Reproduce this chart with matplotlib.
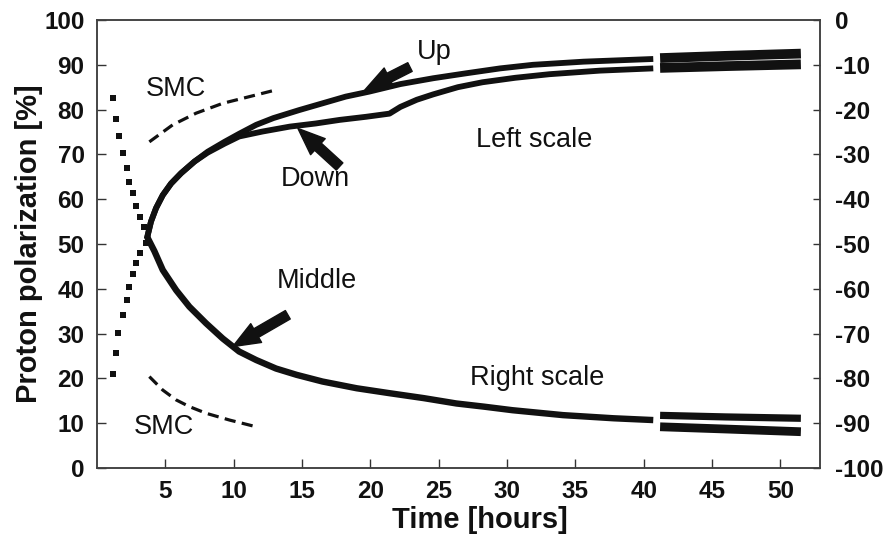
import matplotlib
matplotlib.use("Agg")
import matplotlib.pyplot as plt

plt.rcParams['font.family'] = ['Liberation Sans', 'DejaVu Sans']
plt.rcParams['axes.unicode_minus'] = False

INK = '#111111'

# ---- positive polarization, left scale [%] ----
t_rise = [1.14, 1.39, 1.51, 1.90, 2.17, 2.37, 2.61, 2.88, 3.17, 3.59]
p_rise = [21.0, 25.7, 30.2, 34.1, 37.5, 40.5, 43.2, 45.7, 47.9, 50.2]

t_up = [3.65, 3.95, 4.32, 4.81, 5.42, 6.15, 7.13, 8.1, 9.33, 10.4, 11.65, 12.9, 14.8,
        16.5, 18.2, 19.9, 22.2, 24.6, 27.0, 29.5, 31.9, 35.6, 40.7]
p_up = [51.2, 55.0, 58.0, 60.9, 63.5, 65.8, 68.4, 70.6, 72.8, 74.6, 76.6, 78.1, 79.9,
        81.4, 82.9, 84.0, 85.7, 87.0, 88.1, 89.2, 90.0, 90.7, 91.3]

t_down = [3.65, 3.95, 4.32, 4.81, 5.42, 6.15, 7.13, 8.1, 9.33, 10.4, 12.1, 14.1, 16.0,
          17.75, 19.7, 21.4, 22.2, 23.4, 24.6, 26.4, 28.2, 30.6, 33.1, 36.8, 40.7]
p_down = [51.2, 55.0, 58.0, 60.9, 63.5, 65.8, 68.4, 70.4, 72.4, 74.0, 75.1, 76.2, 76.9,
          77.7, 78.4, 79.1, 80.6, 82.2, 83.4, 85.0, 86.1, 87.1, 87.9, 88.7, 89.2]

t_up_late = [41.2, 46.0, 51.5]
p_up_late = [91.5, 92.0, 92.5]
t_down_late = [41.2, 46.0, 51.5]
p_down_late = [89.3, 89.7, 90.1]

t_smc_pos = [3.83, 5.54, 7.25, 9.2, 11.16, 13.1]
p_smc_pos = [72.8, 76.6, 79.2, 81.4, 82.9, 84.4]

# ---- negative polarization, right scale [%] ----
t_fall = [1.14, 1.39, 1.58, 1.90, 2.17, 2.37, 2.61, 2.88, 3.17, 3.47]
p_fall = [-17.5, -22.2, -25.9, -29.6, -33.1, -36.1, -38.7, -41.5, -43.9, -46.1]

t_mid = [3.65, 4.2, 4.81, 5.79, 6.76, 7.98, 9.2, 10.4, 11.65, 13.1, 14.6, 16.5, 19.0,
         21.4, 23.9, 26.3, 28.3, 30.4, 34.1, 37.8, 40.7]
p_mid = [-48.3, -51.6, -55.8, -60.3, -64.0, -67.7, -71.1, -74.0, -75.9, -77.8, -79.2,
         -80.7, -82.2, -83.3, -84.4, -85.6, -86.3, -87.1, -88.2, -88.9, -89.3]

t_mid_late_a = [41.2, 46.0, 51.5]
p_mid_late_a = [-88.25, -88.6, -88.9]
t_mid_late_b = [41.2, 46.0, 51.5]
p_mid_late_b = [-90.8, -91.3, -91.9]

t_smc_neg = [3.83, 4.81, 5.79, 6.76, 8.0, 9.7, 11.65]
p_smc_neg = [-79.6, -82.6, -84.8, -86.3, -87.8, -89.3, -90.8]

x_ticks = [5, 10, 15, 20, 25, 30, 35, 40, 45, 50]
left_ticks = [0, 10, 20, 30, 40, 50, 60, 70, 80, 90, 100]
right_ticks = [-100, -90, -80, -70, -60, -50, -40, -30, -20, -10, 0]

fig = plt.figure(figsize=(8.96, 5.35), dpi=100)
ax = fig.add_axes([97 / 896, 1 - 468 / 535, 723 / 896, 448 / 535])
ax2 = ax.twinx()

ax.set_xlim(0, 52.9)
ax.set_ylim(0, 100)
ax2.set_ylim(-100, 0)

line = dict(color=INK, solid_capstyle='butt', solid_joinstyle='round')
dash = dict(color=INK, lw=2.3, dashes=(3.5, 2.0))
dots = dict(ls='none', marker='s', ms=4.3, mew=0, color=INK)

# left-scale curves
ax.plot(t_rise, p_rise, **dots)
ax.plot(t_up, p_up, lw=4.2, **line)
ax.plot(t_down, p_down, lw=4.2, **line)
ax.plot(t_up_late, p_up_late, lw=7.0, **line)
ax.plot(t_down_late, p_down_late, lw=7.0, **line)
ax.plot(t_smc_pos, p_smc_pos, **dash)

# right-scale curves
ax2.plot(t_fall, p_fall, **dots)
ax2.plot(t_mid, p_mid, lw=4.6, **line)
ax2.plot(t_mid_late_a, p_mid_late_a, lw=5.2, **line)
ax2.plot(t_mid_late_b, p_mid_late_b, lw=6.3, **line)
ax2.plot(t_smc_neg, p_smc_neg, **dash)

# labels on the plot
txt = dict(color=INK, fontsize=19.5, ha='center', va='center')
ax.text(5.8, 84.6, 'SMC', **txt)
ax.text(24.7, 92.9, 'Up', **txt)
ax.text(16.0, 64.5, 'Down', **txt)
ax.text(32.0, 73.2, 'Left scale', **txt)
ax.text(16.1, 41.7, 'Middle', **txt)
ax.text(32.2, 20.1, 'Right scale', **txt)
ax.text(4.86, 9.2, 'SMC', **txt)

arrow = dict(arrowstyle='simple,head_length=0.75,head_width=0.6,tail_width=0.27',
             color=INK, shrinkA=0, shrinkB=0, mutation_scale=26)
ax.annotate('', xy=(19.6, 84.4), xytext=(22.9, 89.5), arrowprops=arrow)
ax.annotate('', xy=(14.7, 75.8), xytext=(17.75, 67.3), arrowprops=arrow)
ax.annotate('', xy=(9.93, 27.1), xytext=(13.96, 34.2), arrowprops=arrow)

# axes, ticks and titles
ax.set_xticks(x_ticks)
ax.set_yticks(left_ticks)
ax2.set_yticks(right_ticks)
ax.tick_params(direction='in', length=6.5, width=1.0, pad=9, labelsize=17.5,
               colors='#333333', labelcolor=INK)
ax2.tick_params(direction='in', length=5, width=1.0, pad=11, labelsize=17.5,
                colors='#333333', labelcolor=INK)
for lab in ax.get_xticklabels() + ax.get_yticklabels() + ax2.get_yticklabels():
    lab.set_fontweight('bold')

for a in (ax, ax2):
    for s in a.spines.values():
        s.set_color('#404040')
        s.set_linewidth(1.1)

ax.set_ylabel('Proton polarization [%]', fontsize=21, fontweight='bold', color=INK)
ax.yaxis.set_label_coords(-0.075, 0.5)
ax.set_xlabel('Time [hours]', fontsize=21, fontweight='bold', color=INK)
ax.xaxis.set_label_coords(0.53, -0.085)
ax.xaxis.label.set_va('top')

fig.savefig('out.png', dpi=100)
